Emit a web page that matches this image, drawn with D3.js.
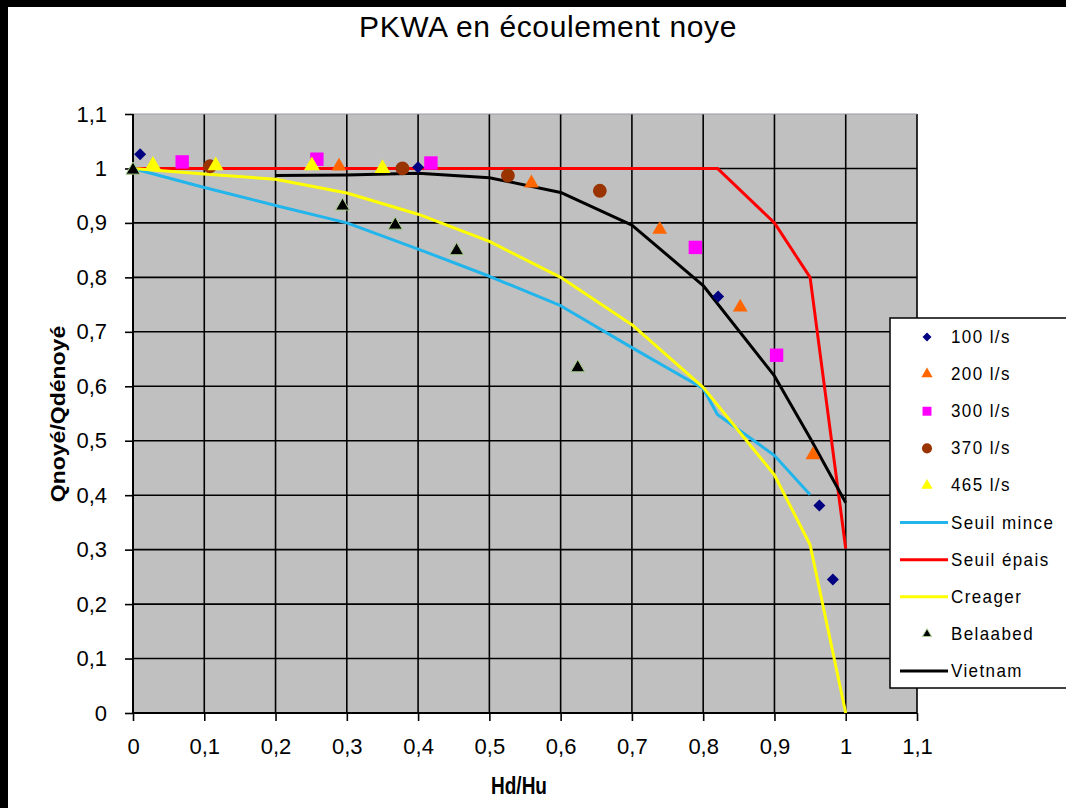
<!DOCTYPE html>
<html>
<head>
<meta charset="utf-8">
<script src="https://cdn.jsdelivr.net/npm/d3@7"></script>
<style>
  html, body { margin: 0; padding: 0; background: #fff; }
  svg { display: block; }
  text { font-family: "Liberation Sans", Arial, sans-serif; fill: #000; }
</style>
</head>
<body>
<svg id="chart" width="1066" height="808"></svg>
<script>
// Measured series: [Hd/Hu, Qnoyé/Qdénoyé]
const q100 = [[0.01, 1.026], [0.40, 1.002], [0.821, 0.765], [0.963, 0.381], [0.982, 0.245]];
const q200 = [[0.289, 1.004], [0.559, 0.973], [0.739, 0.888], [0.852, 0.745], [0.954, 0.474]];
const q300 = [[0.069, 1.012], [0.258, 1.017], [0.418, 1.01], [0.789, 0.855], [0.903, 0.657]];
const q370 = [[0.108, 1.004], [0.378, 1.0], [0.526, 0.987], [0.655, 0.959]];
const q465 = [[0.028, 1.006], [0.116, 1.005], [0.251, 1.005], [0.35, 1.0]];
const belaabed = [[0.0, 0.997], [0.294, 0.931], [0.368, 0.896], [0.454, 0.849], [0.624, 0.634]];

// Reference curves
const seuilMince = [[0, 1.0], [0.1, 0.965], [0.2, 0.932], [0.3, 0.9], [0.4, 0.852], [0.5, 0.802],
  [0.6, 0.748], [0.7, 0.671], [0.8, 0.596], [0.82, 0.548], [0.9, 0.473], [0.95, 0.401]];
const seuilEpais = [[0, 1.0], [0.82, 1.0], [0.9, 0.9], [0.95, 0.8], [1.0, 0.302]];
const creager = [[0, 1.0], [0.1, 0.99], [0.2, 0.98], [0.3, 0.955], [0.4, 0.916], [0.5, 0.866],
  [0.6, 0.8], [0.7, 0.713], [0.8, 0.598], [0.9, 0.437], [0.95, 0.309], [1.0, 0.0]];
const vietnam = [[0.2, 0.987], [0.3, 0.988], [0.4, 0.991], [0.5, 0.983], [0.6, 0.956], [0.7, 0.896],
  [0.8, 0.785], [0.9, 0.619], [0.95, 0.505], [1.0, 0.386]];

const xTicks = [0, 0.1, 0.2, 0.3, 0.4, 0.5, 0.6, 0.7, 0.8, 0.9, 1.0, 1.1];
const yTicks = [0, 0.1, 0.2, 0.3, 0.4, 0.5, 0.6, 0.7, 0.8, 0.9, 1.0, 1.1];

const titleText = "PKWA en écoulement noye";
const xTitle = "Hd/Hu";
const yTitle = "Qnoyé/Qdénoyé";

const svg = d3.select("#chart");
const W = 1066, H = 808;

// Frame strips on the top and left edges
svg.append("rect").attr("x", 0).attr("y", 0).attr("width", W).attr("height", 7).attr("fill", "#000");
svg.append("rect").attr("x", 0).attr("y", 0).attr("width", 8).attr("height", H).attr("fill", "#000");

const x = d3.scaleLinear().domain([0, 1.1]).range([133, 917]);
const y = d3.scaleLinear().domain([0, 1.1]).range([713, 114]);
const fmt = v => String(+v.toFixed(1)).replace(".", ",");

// Plot area
svg.append("rect")
  .attr("x", x(0)).attr("y", y(1.1))
  .attr("width", x(1.1) - x(0)).attr("height", y(0) - y(1.1))
  .attr("fill", "#c0c0c0");

// Gridlines
const grid = svg.append("g");
grid.selectAll("line.v").data(xTicks.slice(1)).join("line")
  .attr("x1", d => x(d)).attr("x2", d => x(d))
  .attr("y1", y(0)).attr("y2", y(1.1))
  .attr("stroke", "#000").attr("stroke-width", 1.6);
grid.selectAll("line.h").data(yTicks.slice(1, -1)).join("line")
  .attr("x1", x(0)).attr("x2", x(1.1))
  .attr("y1", d => y(d)).attr("y2", d => y(d))
  .attr("stroke", "#000").attr("stroke-width", 1.6);
grid.append("line")
  .attr("x1", x(0)).attr("x2", x(1.1))
  .attr("y1", y(1.1)).attr("y2", y(1.1))
  .attr("stroke", "#9a98a8").attr("stroke-width", 1.2);

// Axes
const xAxis = d3.axisBottom(x).tickValues(xTicks).tickFormat(fmt).tickSize(8).tickPadding(17);
const yAxis = d3.axisLeft(y).tickValues(yTicks).tickFormat(fmt).tickSize(8).tickPadding(18);

const gx = svg.append("g").attr("transform", `translate(0,${y(0)})`).call(xAxis);
const gy = svg.append("g").attr("transform", `translate(${x(0)},0)`).call(yAxis);
[gx, gy].forEach(g => {
  g.select(".domain").attr("stroke", "#000").attr("stroke-width", 2);
  g.selectAll(".tick line").attr("stroke", "#000").attr("stroke-width", 1.6);
  g.selectAll(".tick text")
    .style("font-family", '"Liberation Sans", Arial, sans-serif')
    .attr("font-size", 22).attr("fill", "#000");
});
gx.select(".domain").attr("d", `M${x(0)},0H${x(1.1)}`);
gy.select(".domain").attr("d", `M0,${y(0)}V${y(1.1)}`);

// Curves
const line = d3.line().x(d => x(d[0])).y(d => y(d[1]));
const curves = [
  { data: seuilMince, color: "#22b5ec" },
  { data: seuilEpais, color: "#ff0000" },
  { data: creager, color: "#ffff00" },
  { data: vietnam, color: "#000000" }
];
const gc = svg.append("g");
curves.forEach(c => {
  gc.append("path").attr("d", line(c.data))
    .attr("fill", "none").attr("stroke", c.color)
    .attr("stroke-width", 3).attr("stroke-linejoin", "round");
});

// Markers
const sym = (type, size) => d3.symbol().type(type).size(size)();
const diamondPath = s => `M0,${-s}L${s},0L0,${s}L${-s},0Z`;
const markerSeries = [
  { data: q100, path: diamondPath(6), fill: "#000080", stroke: "none" },
  { data: q200, path: sym(d3.symbolTriangle, 95), fill: "#ff6600", stroke: "none" },
  { data: q300, path: sym(d3.symbolSquare, 180), fill: "#ff00ff", stroke: "none" },
  { data: q370, path: sym(d3.symbolCircle, 150), fill: "#993300", stroke: "none" },
  { data: q465, path: sym(d3.symbolTriangle, 110), fill: "#ffff00", stroke: "none" },
  { data: belaabed, path: sym(d3.symbolTriangle, 85), fill: "#000000", stroke: "#a8d08d" }
];
const gm = svg.append("g");
markerSeries.forEach(m => {
  gm.append("g").selectAll("path").data(m.data).join("path")
    .attr("d", m.path)
    .attr("transform", d => `translate(${x(d[0])},${y(d[1])})`)
    .attr("fill", m.fill)
    .attr("stroke", m.stroke).attr("stroke-width", 1);
});

// Titles
svg.append("text").attr("x", 548).attr("y", 37).attr("text-anchor", "middle")
  .attr("font-size", 30).attr("letter-spacing", 0.6).text(titleText);
svg.append("text").attr("transform", "translate(519,794) scale(1,1.25)").attr("text-anchor", "middle")
  .attr("font-size", 19).attr("font-weight", "bold").text(xTitle);
svg.append("text").attr("transform", "translate(65,414) scale(1,1.15) rotate(-90)").attr("text-anchor", "middle")
  .attr("font-size", 20).attr("font-weight", "bold").text(yTitle);

// Legend
const legendItems = [
  { label: "100 l/s", kind: "m", path: diamondPath(4.5), fill: "#000080" },
  { label: "200 l/s", kind: "m", path: sym(d3.symbolTriangle, 55), fill: "#ff6600" },
  { label: "300 l/s", kind: "m", path: sym(d3.symbolSquare, 80), fill: "#ff00ff" },
  { label: "370 l/s", kind: "m", path: sym(d3.symbolCircle, 80), fill: "#993300" },
  { label: "465 l/s", kind: "m", path: sym(d3.symbolTriangle, 55), fill: "#ffff00" },
  { label: "Seuil mince", kind: "l", color: "#22b5ec" },
  { label: "Seuil épais", kind: "l", color: "#ff0000" },
  { label: "Creager", kind: "l", color: "#ffff00" },
  { label: "Belaabed", kind: "m", path: sym(d3.symbolTriangle, 35), fill: "#000000", stroke: "#a8d08d" },
  { label: "Vietnam", kind: "l", color: "#000000" }
];
const lg = svg.append("g");
lg.append("rect").attr("x", 890).attr("y", 318).attr("width", 200).attr("height", 370)
  .attr("fill", "#fff").attr("stroke", "#000").attr("stroke-width", 1.5);
const ly = d3.scalePoint().domain(legendItems.map(d => d.label)).range([337, 671]);
legendItems.forEach(it => {
  const cy = ly(it.label);
  if (it.kind === "l") {
    lg.append("line").attr("x1", 900).attr("x2", 948).attr("y1", cy).attr("y2", cy)
      .attr("stroke", it.color).attr("stroke-width", 3);
  } else {
    lg.append("path").attr("d", it.path).attr("transform", `translate(927,${cy})`)
      .attr("fill", it.fill).attr("stroke", it.stroke || "none").attr("stroke-width", 1);
  }
  lg.append("text").attr("transform", `translate(951,${cy + 6}) scale(1,1.08)`).attr("font-size", 17)
    .attr("letter-spacing", 1.4).text(it.label);
});
</script>
</body>
</html>
